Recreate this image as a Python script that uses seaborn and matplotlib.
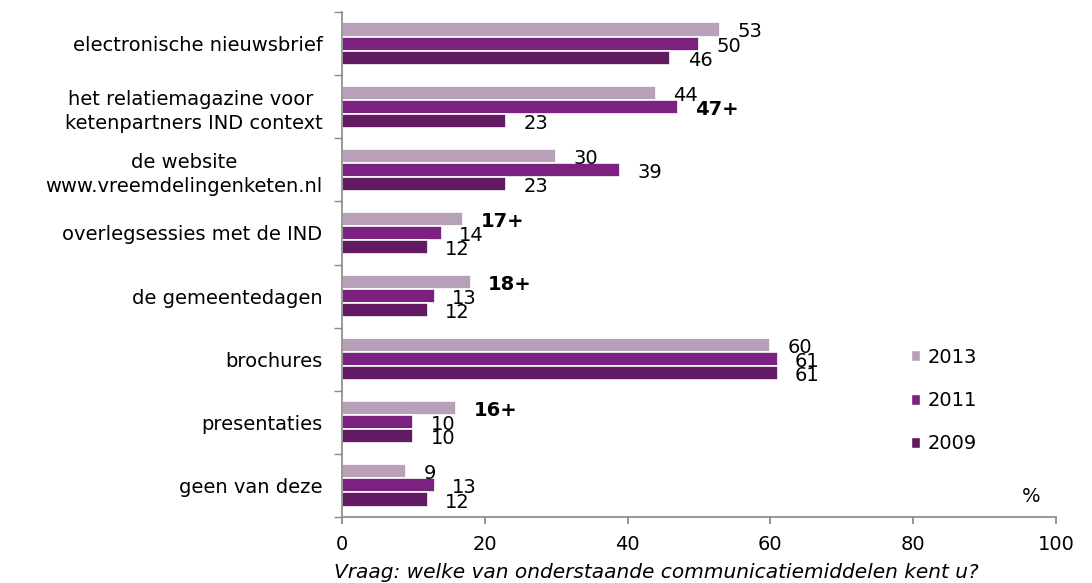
import pandas as pd
import matplotlib.pyplot as plt
import seaborn as sns
from matplotlib.patches import Patch

# ── Data ──────────────────────────────────────────────────────────
CATEGORIES = [
    "electronische nieuwsbrief",
    "het relatiemagazine voor \nketenpartners IND context",
    "de website\nwww.vreemdelingenketen.nl",
    "overlegsessies met de IND",
    "de gemeentedagen",
    "brochures",
    "presentaties",
    "geen van deze",
]
YEARS = ["2013", "2011", "2009"]
V2013 = [53, 44, 30, 17, 18, 60, 16, 9]
V2011 = [50, 47, 39, 14, 13, 61, 10, 13]
V2009 = [46, 23, 23, 12, 12, 61, 10, 12]
# labels marked significant (bold, with "+")
SIG_2013 = [False, False, False, True, True, False, True, False]
SIG_2011 = [False, True, False, False, False, False, False, False]
SIG_2009 = [False] * 8

COLORS = {"2013": "#B9A0B9", "2011": "#7B2180", "2009": "#621A63"}

df = pd.DataFrame({
    "cat": CATEGORIES * 3,
    "year": [y for y in YEARS for _ in CATEGORIES],
    "value": V2013 + V2011 + V2009,
    "sig": SIG_2013 + SIG_2011 + SIG_2009,
})

# ── Plot ──────────────────────────────────────────────────────────
sns.set_theme(style="white")
plt.rcParams["font.family"] = ["DejaVu Sans"]
plt.rcParams.update({"text.color": "black", "xtick.color": "black",
                     "ytick.color": "black", "axes.labelcolor": "black"})
FS = 14

fig = plt.figure(figsize=(10.92, 5.83), dpi=100)
ax = fig.add_axes([0.3132, 0.1132, 0.6538, 0.8662])

sns.barplot(data=df, y="cat", x="value", hue="year", order=CATEGORIES,
            hue_order=YEARS, palette=COLORS, saturation=1, orient="h",
            width=0.67, edgecolor="white", linewidth=1.2, legend=False, ax=ax)

# value labels
for container, year in zip(ax.containers, YEARS):
    sub = df[df["year"] == year].reset_index(drop=True)
    for bar, (_, row) in zip(container, sub.iterrows()):
        yc = bar.get_y() + bar.get_height() / 2 + 0.04
        if row["sig"]:
            ax.text(row["value"] + 2.4, yc, f"{row['value']}+", va="center",
                    ha="left", fontsize=FS, fontweight="bold")
        else:
            ax.text(row["value"] + 2.4, yc, f"{row['value']}", va="center",
                    ha="left", fontsize=FS)

ax.set_xlim(0, 100)
ax.set_ylim(len(CATEGORIES) - 0.5, -0.5)
ax.set_xticks([0, 20, 40, 60, 80, 100])
ax.set_yticks(range(len(CATEGORIES)))
ax.set_yticklabels(CATEGORIES, fontsize=FS, ha="right", linespacing=1.35)
ax.set_yticks([i - 0.5 for i in range(len(CATEGORIES) + 1)], minor=True)
ax.tick_params(axis="y", which="major", length=0, pad=14)
ax.tick_params(axis="y", which="minor", length=6, color="#888888",
               direction="out", left=True)
ax.tick_params(axis="x", length=5, color="#888888", direction="out",
               bottom=True, labelsize=FS, pad=8)
for tl in ax.get_yticklabels():
    tl.set_multialignment("center")

ax.set_ylabel("")
ax.set_xlabel("Vraag: welke van onderstaande communicatiemiddelen kent u?",
              fontsize=14.5, style="italic")
ax.xaxis.set_label_coords(0.44, -0.11)
ax.xaxis.label.set_va("center")

for s in ["top", "right"]:
    ax.spines[s].set_visible(False)
for s in ["left", "bottom"]:
    ax.spines[s].set_color("#888888")
    ax.spines[s].set_linewidth(1.2)

handles = [Patch(facecolor=COLORS[y], label=y) for y in YEARS]
ax.legend(handles=handles, loc="upper left", bbox_to_anchor=(0.772, 0.37),
          frameon=False, fontsize=FS, handlelength=0.5, handleheight=0.5,
          handletextpad=0.35, labelspacing=1.25)

ax.text(0.965, 0.03, "%", transform=ax.transAxes, fontsize=FS, ha="center")

fig.savefig("out.png", dpi=100)
plt.close()
